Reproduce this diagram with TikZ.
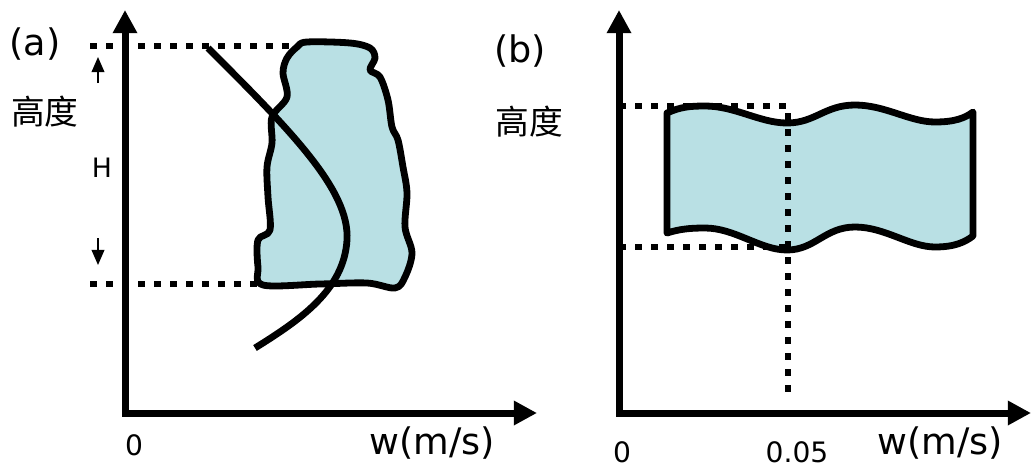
\documentclass[tikz,border=0pt]{standalone}
\usepackage{fontspec}
\setmainfont{DejaVu Sans}
\newfontfamily\cjk{Noto Sans CJK SC}
\usetikzlibrary{arrows.meta}
\definecolor{cloudblue}{HTML}{B9E0E4}
\tikzset{
  axis/.style={line width=1.75mm, {Triangle[width=5.8mm,length=5.8mm]}-{Triangle[width=5.8mm,length=5.8mm]}},
  dotline/.style={line width=1.5mm, dash pattern=on 1.75mm off 2.25mm},
  outline/.style={line width=1.7mm, line join=round},
  hmark/.style={line width=0.4mm, -{Triangle[width=3.2mm,length=3.8mm]}},
  bigtext/.style={inner sep=0pt, font=\fontsize{26}{30}\selectfont},
  smalltext/.style={inner sep=0pt, font=\fontsize{20}{24}\selectfont},
  cjktext/.style={inner sep=0pt, font=\cjk\fontsize{24}{28}\selectfont},
}
\begin{document}
\begin{tikzpicture}[x=0.025cm, y=-0.025cm]
  \useasboundingbox (0,0) rectangle (1032,467);

  % (a) panel
  \coordinate (Ya) at (125,10);
  \coordinate (Oa) at (125,413);
  \coordinate (Xa) at (537,413);
  \coordinate (topa) at (90,46);
  \coordinate (bota) at (90,284);

  \draw[dotline] (topa) -- (300,46);
  \draw[dotline] (bota) -- (262,284);

  \filldraw[outline, fill=cloudblue] plot[smooth cycle, tension=0.55] coordinates {
    (307,42) (350,43) (370,48) (375,58) (370,70) (380,77) (388,100) (392,127)
    (398,140) (403,167) (407,193) (405,227) (412,253) (405,277) (395,288)
    (367,283) (320,284) (263,285) (258,267) (258,240) (270,230) (268,197)
    (267,167) (272,143) (272,117) (287,97) (283,73) (287,58) (297,47)};

  \draw[outline, line cap=butt] (208,48) .. controls (290,130) and (350,190) .. (347,240)
    .. controls (344,290) and (300,320) .. (255,348);

  \draw[axis] (Ya) -- (Oa) -- (Xa);

  \coordinate (Hup0) at (98,83);
  \coordinate (Hup1) at (98,57);
  \coordinate (Hdn0) at (98,238);
  \coordinate (Hdn1) at (98,265);
  \draw[hmark] (Hup0) -- (Hup1);
  \draw[hmark] (Hdn0) -- (Hdn1);

  \node[bigtext] (laba) at (35,44) {(a)};
  \node[cjktext] (hgta) at (45,112) {高度};
  \node[smalltext, font=\fontsize{19}{23}\selectfont] (hlab) at (102,168) {H};
  \node[smalltext] (zeroa) at (134,445) {0};
  \node[bigtext] (wa) at (432,443) {w(m/s)};

  % (b) panel
  \coordinate (Yb) at (619,10);
  \coordinate (Ob) at (619,413);
  \coordinate (Xb) at (1031,413);
  \coordinate (topb) at (619,106);
  \coordinate (botb) at (619,247);
  \coordinate (cornb) at (788,106);
  \coordinate (footb) at (788,392);

  \fill[cloudblue] (667,113) .. controls (680,107) and (690,106) .. (705,106)
    .. controls (735,106) and (760,123) .. (787,123)
    .. controls (815,123) and (825,105) .. (855,105)
    .. controls (885,105) and (910,122) .. (935,122)
    .. controls (955,122) and (965,118) .. (973,112)
    -- (973,236)
    .. controls (965,242) and (955,247) .. (935,247)
    .. controls (910,247) and (885,227) .. (855,227)
    .. controls (825,227) and (815,250) .. (787,250)
    .. controls (760,250) and (735,228) .. (705,228)
    .. controls (690,228) and (680,229) .. (667,233) -- cycle;

  \draw[dotline] (topb) -- (cornb) -- (footb);
  \draw[dotline] (botb) -- (785,247);

  \draw[outline] (667,113) .. controls (680,107) and (690,106) .. (705,106)
    .. controls (735,106) and (760,123) .. (787,123)
    .. controls (815,123) and (825,105) .. (855,105)
    .. controls (885,105) and (910,122) .. (935,122)
    .. controls (955,122) and (965,118) .. (973,112)
    -- (973,236)
    .. controls (965,242) and (955,247) .. (935,247)
    .. controls (910,247) and (885,227) .. (855,227)
    .. controls (825,227) and (815,250) .. (787,250)
    .. controls (760,250) and (735,228) .. (705,228)
    .. controls (690,228) and (680,229) .. (667,233) -- cycle;

  \draw[axis] (Yb) -- (Ob) -- (Xb);

  \node[bigtext] (labb) at (520,51) {(b)};
  \node[cjktext] (hgtb) at (529,122) {高度};
  \node[smalltext] (zerob) at (622,452) {0};
  \node[smalltext] (tick) at (797,452) {0.05};
  \node[bigtext] (wb) at (940,443) {w(m/s)};
\end{tikzpicture}
\end{document}
